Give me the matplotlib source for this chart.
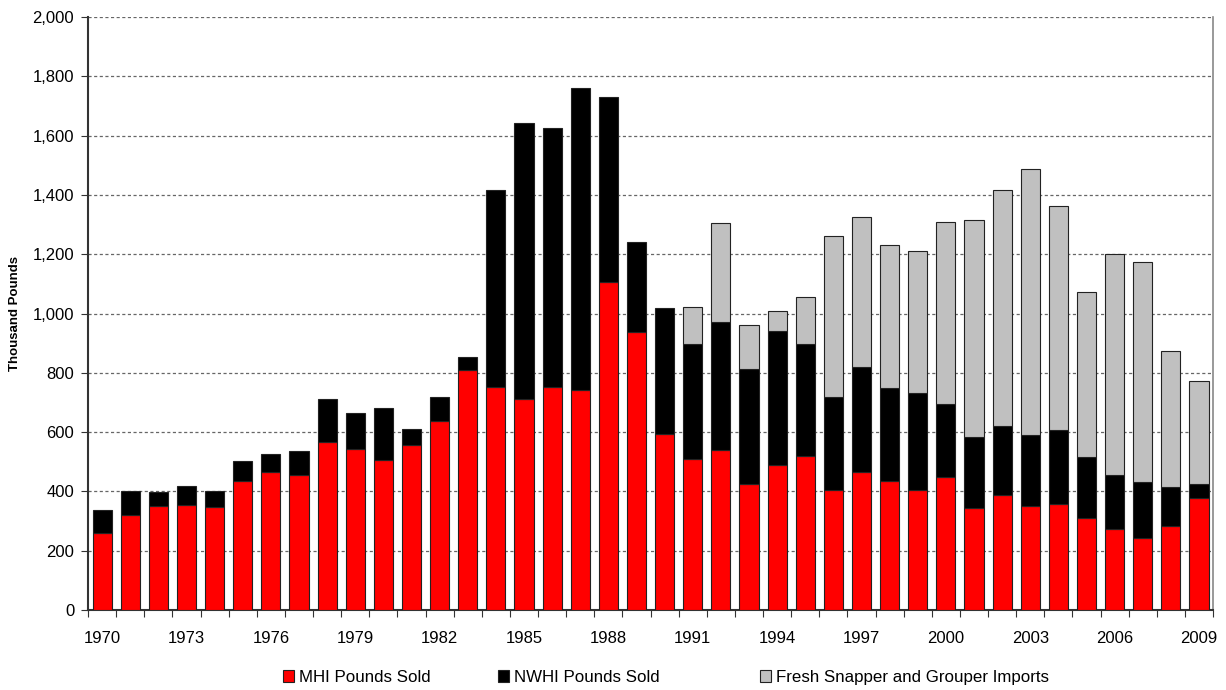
import numpy as np
import matplotlib.pyplot as plt
from matplotlib.ticker import FuncFormatter
from matplotlib.patches import Patch

plt.rcParams['font.family'] = ['Liberation Sans', 'DejaVu Sans']

years = list(range(1970, 2010))

# thousand pounds
mhi = [259, 322, 350, 354, 346, 436, 464, 455, 565, 544,
       506, 557, 638, 810, 751, 713, 751, 743, 1105, 937,
       593, 508, 540, 424, 490, 521, 405, 466, 436, 405,
       447, 345, 389, 350, 358, 312, 272, 242, 285, 377]
nwhi = [79, 79, 47, 65, 55, 65, 62, 82, 148, 122,
        176, 53, 80, 43, 665, 929, 876, 1017, 626, 303,
        424, 390, 430, 390, 450, 376, 315, 352, 313, 327,
        249, 239, 230, 241, 248, 205, 182, 190, 131, 47]
imports = [0, 0, 0, 0, 0, 0, 0, 0, 0, 0,
           0, 0, 0, 0, 0, 0, 0, 0, 0, 0,
           0, 124, 334, 147, 68, 159, 542, 506, 483, 480,
           612, 732, 797, 896, 756, 556, 748, 742, 459, 350]

labels = ['MHI Pounds Sold', 'NWHI Pounds Sold', 'Fresh Snapper and Grouper Imports']
colors = ['#FF0000', '#000000', '#C0C0C0']

x = np.arange(len(years))
mhi = np.array(mhi)
nwhi = np.array(nwhi)
imports = np.array(imports)

fig = plt.figure(figsize=(12.26, 6.9), dpi=100)
ax = fig.add_axes([0.0718, 0.1159, 0.9176, 0.8595])

w = 0.68
ax.bar(x, mhi, w, color=colors[0], edgecolor='#222222', linewidth=0.8, zorder=3)
ax.bar(x, nwhi, w, bottom=mhi, color=colors[1], edgecolor='#222222', linewidth=0.8, zorder=3)
imp_mask = imports > 0
ax.bar(x[imp_mask], imports[imp_mask], w, bottom=(mhi + nwhi)[imp_mask], color=colors[2],
       edgecolor='#222222', linewidth=0.8, zorder=3)

ax.set_xlim(-0.5, len(years) - 0.5)
ax.set_ylim(0, 2000)
ax.set_yticks(np.arange(0, 2001, 200))
ax.yaxis.set_major_formatter(FuncFormatter(lambda v, p: f'{int(v):,}'))
ax.yaxis.grid(True, linestyle=(0, (2.5, 2)), color='#666666', linewidth=0.9, zorder=0)
ax.set_axisbelow(True)

# ticks between bars, labels every third year
ax.set_xticks(np.arange(-0.5, len(years), 1.0))
ax.set_xticklabels([])
ax.set_xticks(x[::3], minor=True)
ax.set_xticklabels([str(y) for y in years[::3]], minor=True)
ax.tick_params(axis='x', which='major', direction='out', length=5, color='#333333')
ax.tick_params(axis='x', which='minor', length=0, pad=15, labelsize=12)
ax.tick_params(axis='y', direction='out', length=5, color='#333333', labelsize=12, pad=5)

ax.spines['top'].set_visible(False)
ax.spines['left'].set_color('#333333')
ax.spines['left'].set_linewidth(1.5)
ax.spines['bottom'].set_color('#333333')
ax.spines['bottom'].set_linewidth(1.5)
ax.spines['right'].set_color('#888888')
ax.spines['right'].set_linewidth(1.2)

ax.set_ylabel('Thousand Pounds', fontsize=9.5, fontweight='bold', labelpad=8)

# legend entries placed separately, like the original spacing
leg_x = [0.2308, 0.4062, 0.6199]
for lab, col, lx in zip(labels, colors, leg_x):
    h = Patch(facecolor=col, edgecolor='#222222', linewidth=0.8)
    lg = fig.legend([h], [lab], loc='center left', bbox_to_anchor=(lx, 0.018), frameon=False,
                    fontsize=12.2, handlelength=0.65, handleheight=0.65, handletextpad=0.3,
                    borderpad=0, borderaxespad=0)

fig.savefig('out.png', dpi=100)
